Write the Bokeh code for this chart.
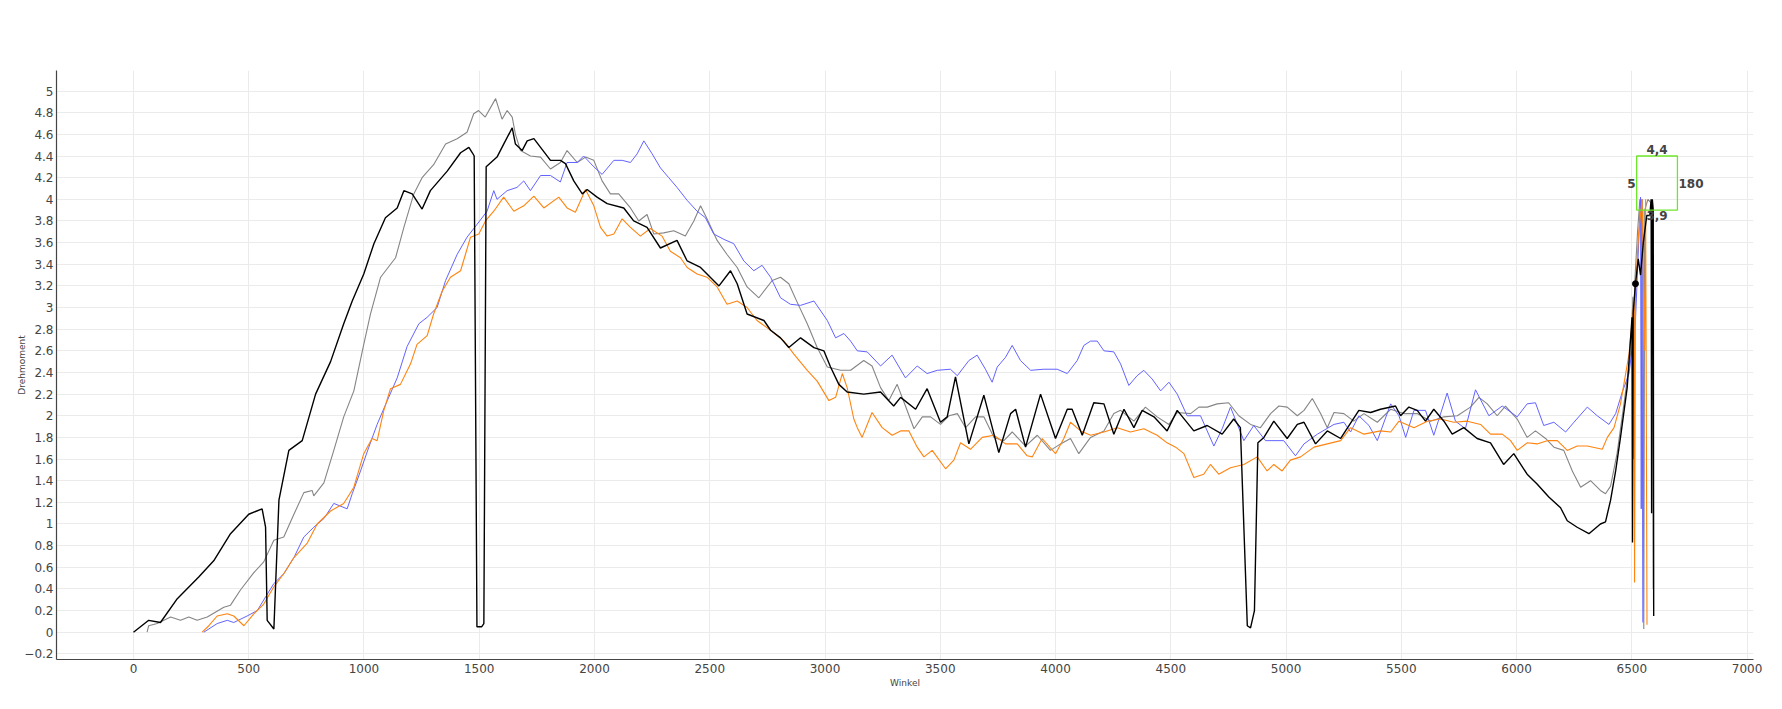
from bokeh.plotting import figure
from bokeh.models import FixedTicker, Label, Range1d
from bokeh.embed import file_html
from bokeh.resources import INLINE

# ---------------- data ----------------
black_x = [0, 66, 117, 190, 283, 348, 421, 500, 558, 573, 580, 609, 631, 674, 732, 790, 855, 912, 949, 999,
           1043, 1093, 1144, 1173, 1209, 1252, 1288, 1361, 1419, 1455, 1470, 1478, 1490, 1510, 1520, 1530, 1577,
           1606, 1643, 1657, 1686, 1708, 1737, 1766, 1809, 1852, 1874, 1910, 1947, 1968, 2011, 2055, 2127, 2170,
           2228, 2286, 2358, 2402, 2460, 2540, 2590, 2619, 2662, 2735, 2764, 2807, 2843, 2894, 2952, 2995, 3024,
           3060, 3096, 3168, 3241, 3298, 3328, 3393, 3443, 3501, 3530, 3566, 3624, 3689, 3754, 3805, 3827, 3870,
           3935, 4000, 4051, 4072, 4116, 4166, 4210, 4253, 4297, 4340, 4376, 4427, 4484, 4528, 4600, 4658, 4723,
           4773, 4802, 4832, 4846, 4863, 4878, 4904, 4947, 5005, 5049, 5078, 5128, 5179, 5237, 5316, 5367, 5410,
           5475, 5497, 5533, 5569, 5605, 5641, 5685, 5721, 5771, 5829, 5887, 5944, 5988, 6046, 6089, 6140, 6191,
           6220, 6263, 6314, 6364, 6386, 6408, 6430, 6451, 6480, 6501, 6503, 6506, 6516, 6528, 6538, 6550, 6565,
           6578, 6584, 6586, 6589, 6593, 6595]
black_y = [0.0, 0.11, 0.09, 0.31, 0.51, 0.66, 0.91, 1.09, 1.14, 0.97, 0.11, 0.03, 1.22, 1.68, 1.77, 2.20, 2.50,
           2.85, 3.06, 3.31, 3.59, 3.83, 3.92, 4.08, 4.05, 3.91, 4.08, 4.26, 4.43, 4.48, 4.43, 4.40, 0.05, 0.05,
           0.08, 4.30, 4.39, 4.51, 4.66, 4.51, 4.45, 4.54, 4.56, 4.48, 4.36, 4.36, 4.33, 4.17, 4.05, 4.09, 4.02,
           3.96, 3.92, 3.80, 3.74, 3.55, 3.62, 3.43, 3.37, 3.20, 3.34, 3.22, 2.94, 2.88, 2.79, 2.72, 2.63, 2.72,
           2.63, 2.60, 2.45, 2.29, 2.22, 2.20, 2.22, 2.09, 2.17, 2.06, 2.25, 1.94, 1.99, 2.36, 1.74, 2.19, 1.66,
           2.02, 2.06, 1.71, 2.20, 1.79, 2.06, 2.06, 1.82, 2.12, 2.11, 1.83, 2.06, 1.89, 2.05, 1.99, 1.86, 2.05,
           1.86, 1.91, 1.83, 1.97, 1.89, 0.06, 0.04, 0.20, 1.75, 1.80, 1.95, 1.79, 1.92, 1.94, 1.74, 1.86, 1.79,
           2.05, 2.03, 2.06, 2.09, 2.00, 2.08, 2.05, 1.95, 2.06, 1.95, 1.83, 1.89, 1.79, 1.75, 1.55, 1.65, 1.46,
           1.37, 1.25, 1.15, 1.03, 0.97, 0.91, 1.00, 1.02, 1.22, 1.49, 1.80, 2.26, 2.91, 0.83, 2.95, 3.22, 3.45,
           3.30, 3.60, 3.85, 3.85, 4.00, 1.10, 4.00, 3.90, 0.15]

gray_x = [59, 66, 103, 161, 204, 240, 276, 320, 392, 421, 464, 522, 565, 609, 652, 696, 739, 775, 782, 826, 869,
          912, 956, 999, 1028, 1072, 1137, 1173, 1216, 1252, 1302, 1354, 1404, 1447, 1476, 1497, 1526, 1571, 1599,
          1621, 1643, 1657, 1679, 1722, 1766, 1809, 1852, 1881, 1925, 1961, 1997, 2033, 2069, 2105, 2156, 2192,
          2228, 2257, 2300, 2344, 2394, 2431, 2460, 2488, 2532, 2575, 2619, 2662, 2713, 2771, 2807, 2843, 2879,
          2923, 2966, 3010, 3068, 3111, 3168, 3204, 3241, 3277, 3313, 3349, 3386, 3422, 3458, 3501, 3538, 3574,
          3610, 3653, 3689, 3733, 3776, 3812, 3870, 3921, 3978, 4022, 4065, 4101, 4152, 4210, 4253, 4282, 4340,
          4390, 4441, 4492, 4528, 4586, 4622, 4658, 4701, 4751, 4795, 4846, 4889, 4933, 4969, 5005, 5049, 5078,
          5114, 5150, 5179, 5208, 5251, 5294, 5338, 5396, 5454, 5511, 5569, 5627, 5685, 5743, 5800, 5837, 5873,
          5916, 5952, 6003, 6046, 6082, 6126, 6162, 6205, 6242, 6278, 6321, 6364, 6386, 6408, 6436, 6466, 6495,
          6505, 6508, 6512, 6525, 6535, 6548, 6552, 6556, 6570, 6590, 6592, 6593]
gray_y = [0.0, 0.06, 0.08, 0.14, 0.11, 0.14, 0.11, 0.14, 0.23, 0.25, 0.39, 0.55, 0.65, 0.85, 0.88, 1.09, 1.29,
          1.31, 1.26, 1.38, 1.68, 1.99, 2.23, 2.66, 2.94, 3.28, 3.46, 3.74, 4.05, 4.20, 4.32, 4.51, 4.56, 4.62,
          4.79, 4.82, 4.76, 4.93, 4.74, 4.82, 4.76, 4.60, 4.45, 4.40, 4.39, 4.28, 4.34, 4.45, 4.34, 4.39, 4.36,
          4.17, 4.05, 4.05, 3.92, 3.80, 3.86, 3.68, 3.69, 3.71, 3.66, 3.80, 3.94, 3.82, 3.62, 3.49, 3.37, 3.19,
          3.09, 3.25, 3.28, 3.22, 3.05, 2.85, 2.63, 2.45, 2.42, 2.42, 2.51, 2.46, 2.26, 2.14, 2.29, 2.09, 1.88,
          1.99, 1.99, 1.92, 2.00, 2.02, 1.89, 1.99, 1.99, 1.80, 1.77, 1.85, 1.72, 1.82, 1.68, 1.74, 1.79, 1.65,
          1.80, 1.86, 2.02, 2.05, 1.95, 2.08, 1.99, 1.92, 2.03, 2.02, 2.08, 2.08, 2.11, 2.12, 2.00, 1.92, 1.89,
          2.02, 2.09, 2.08, 2.00, 2.05, 2.16, 2.02, 1.89, 2.03, 2.02, 1.95, 2.02, 1.94, 2.06, 2.02, 2.02, 1.95,
          1.99, 2.00, 2.08, 2.17, 2.11, 2.00, 2.09, 1.97, 1.80, 1.86, 1.79, 1.71, 1.68, 1.49, 1.34, 1.40, 1.31,
          1.28, 1.35, 1.65, 2.11, 2.57, 3.10, 1.60, 3.20, 3.70, 4.00, 3.90, 0.03, 3.90, 4.00, 3.95, 1.10, 0.40]

blue_x = [305, 363, 407, 435, 493, 537, 580, 609, 652, 696, 739, 782, 826, 869, 927, 949, 985, 1021, 1057, 1101,
          1144, 1187, 1238, 1274, 1317, 1354, 1404, 1447, 1491, 1534, 1563, 1577, 1621, 1664, 1693, 1722, 1766,
          1809, 1852, 1881, 1925, 1953, 1997, 2033, 2084, 2120, 2156, 2185, 2214, 2250, 2286, 2322, 2358, 2402,
          2445, 2481, 2517, 2561, 2604, 2648, 2691, 2727, 2764, 2807, 2850, 2894, 2952, 3010, 3046, 3082, 3111,
          3140, 3183, 3241, 3291, 3349, 3400, 3443, 3487, 3544, 3574, 3624, 3660, 3696, 3725, 3747, 3783, 3812,
          3848, 3892, 3949, 4007, 4051, 4094, 4123, 4152, 4181, 4210, 4253, 4282, 4318, 4354, 4383, 4419, 4456,
          4492, 4528, 4571, 4629, 4687, 4723, 4759, 4817, 4860, 4911, 4990, 5041, 5078, 5136, 5208, 5251, 5280,
          5316, 5360, 5396, 5454, 5490, 5519, 5555, 5605, 5641, 5699, 5735, 5778, 5822, 5880, 5938, 6003, 6046,
          6082, 6118, 6162, 6213, 6249, 6307, 6350, 6401, 6430, 6459, 6488, 6516, 6538, 6541, 6544, 6548]
blue_y = [0.0, 0.08, 0.11, 0.09, 0.15, 0.20, 0.35, 0.45, 0.54, 0.69, 0.88, 0.97, 1.05, 1.19, 1.14, 1.28, 1.49,
          1.71, 1.92, 2.14, 2.35, 2.64, 2.85, 2.91, 3.00, 3.25, 3.49, 3.65, 3.77, 3.89, 4.08, 4.00, 4.08, 4.11,
          4.17, 4.08, 4.22, 4.22, 4.16, 4.34, 4.34, 4.40, 4.30, 4.23, 4.36, 4.36, 4.34, 4.42, 4.54, 4.42, 4.29,
          4.20, 4.11, 3.99, 3.89, 3.83, 3.68, 3.63, 3.59, 3.43, 3.34, 3.39, 3.28, 3.09, 3.03, 3.02, 3.06, 2.88,
          2.72, 2.76, 2.69, 2.60, 2.59, 2.46, 2.56, 2.35, 2.46, 2.39, 2.42, 2.43, 2.37, 2.51, 2.56, 2.43, 2.31,
          2.45, 2.54, 2.65, 2.51, 2.42, 2.43, 2.43, 2.39, 2.51, 2.65, 2.69, 2.69, 2.60, 2.59, 2.48, 2.28, 2.37,
          2.42, 2.34, 2.23, 2.31, 2.20, 2.00, 2.00, 1.72, 1.88, 2.08, 1.77, 1.91, 1.77, 1.77, 1.63, 1.74, 1.83,
          1.92, 1.94, 1.85, 2.00, 1.91, 1.77, 2.11, 2.00, 1.80, 2.05, 2.05, 1.82, 2.21, 1.95, 1.88, 2.24, 2.00,
          2.09, 1.99, 2.11, 2.12, 1.91, 1.94, 1.85, 1.94, 2.08, 2.00, 1.92, 2.02, 2.22, 2.39, 2.88, 4.02, 1.14,
          4.00, 0.09]

orange_x = [298, 327, 363, 407, 435, 479, 522, 565, 609, 652, 696, 753, 797, 855, 912, 956, 999, 1035, 1057, 1086,
            1115, 1158, 1202, 1230, 1274, 1302, 1339, 1375, 1419, 1440, 1462, 1498, 1527, 1563, 1606, 1650, 1693,
            1737, 1780, 1845, 1881, 1917, 1961, 1997, 2026, 2055, 2084, 2120, 2156, 2199, 2242, 2293, 2329, 2373,
            2402, 2445, 2488, 2532, 2575, 2619, 2662, 2705, 2764, 2822, 2865, 2923, 2966, 3017, 3046, 3075, 3096,
            3125, 3140, 3161, 3204, 3248, 3291, 3328, 3364, 3400, 3429, 3465, 3523, 3559, 3588, 3631, 3682, 3733,
            3783, 3834, 3877, 3899, 3942, 4000, 4036, 4065, 4109, 4152, 4210, 4268, 4325, 4383, 4441, 4484, 4521,
            4557, 4600, 4643, 4672, 4708, 4759, 4817, 4875, 4918, 4947, 4983, 5019, 5063, 5121, 5179, 5237, 5280,
            5338, 5410, 5454, 5490, 5555, 5613, 5670, 5728, 5786, 5844, 5887, 5938, 5974, 6003, 6046, 6089, 6133,
            6177, 6220, 6263, 6307, 6372, 6394, 6423, 6451, 6488, 6510, 6512, 6516, 6530, 6545, 6556, 6560, 6566]
orange_y = [0.0, 0.06, 0.15, 0.17, 0.15, 0.06, 0.17, 0.26, 0.42, 0.54, 0.69, 0.82, 1.00, 1.12, 1.19, 1.34, 1.65,
            1.79, 1.77, 2.05, 2.25, 2.29, 2.48, 2.66, 2.74, 2.94, 3.15, 3.28, 3.34, 3.49, 3.65, 3.68, 3.80, 3.89,
            4.02, 3.89, 3.94, 4.03, 3.92, 4.02, 3.92, 3.88, 4.09, 3.94, 3.74, 3.66, 3.68, 3.82, 3.74, 3.66, 3.73,
            3.66, 3.52, 3.46, 3.37, 3.31, 3.28, 3.19, 3.03, 3.06, 3.00, 2.88, 2.79, 2.69, 2.57, 2.42, 2.32, 2.14,
            2.17, 2.39, 2.26, 1.97, 1.89, 1.80, 2.03, 1.89, 1.82, 1.86, 1.86, 1.71, 1.62, 1.68, 1.51, 1.59, 1.75,
            1.69, 1.80, 1.82, 1.74, 1.74, 1.63, 1.62, 1.79, 1.65, 1.79, 1.94, 1.86, 1.82, 1.85, 1.89, 1.85, 1.88,
            1.82, 1.75, 1.71, 1.65, 1.43, 1.46, 1.55, 1.46, 1.52, 1.55, 1.62, 1.49, 1.55, 1.49, 1.59, 1.62, 1.71,
            1.74, 1.77, 1.89, 1.83, 1.86, 1.85, 1.95, 1.89, 1.95, 1.97, 1.94, 1.95, 1.92, 1.83, 1.83, 1.77, 1.68,
            1.75, 1.74, 1.77, 1.77, 1.68, 1.72, 1.72, 1.69, 1.80, 1.89, 2.11, 2.57, 3.06, 0.46, 3.15, 3.70, 4.00,
            2.60, 4.00, 0.07]

marker_x = [6516]
marker_y = [3.22]

# tolerance window (green box) and its labels
box_left = [6521]
box_right = [6698]
box_bottom = [3.9]
box_top = [4.4]
box_label_top = "4,4"
box_label_bottom = "3,9"
box_label_left = "5"
box_label_right = "180"

x_ticks = [0, 500, 1000, 1500, 2000, 2500, 3000, 3500, 4000, 4500, 5000, 5500, 6000, 6500, 7000]
x_tick_labels = ["0", "500", "1000", "1500", "2000", "2500", "3000", "3500", "4000", "4500", "5000",
                 "5500", "6000", "6500", "7000"]
y_ticks = [-0.2, 0, 0.2, 0.4, 0.6, 0.8, 1, 1.2, 1.4, 1.6, 1.8, 2, 2.2, 2.4, 2.6, 2.8, 3, 3.2, 3.4, 3.6, 3.8,
           4, 4.2, 4.4, 4.6, 4.8, 5]
y_tick_labels = ["\u22120.2", "0", "0.2", "0.4", "0.6", "0.8", "1", "1.2", "1.4", "1.6", "1.8", "2", "2.2",
                 "2.4", "2.6", "2.8", "3", "3.2", "3.4", "3.6", "3.8", "4", "4.2", "4.4", "4.6", "4.8", "5"]

x_title = "Winkel"
y_title = "Drehmoment"

# ---------------- figure ----------------
FONT = "DejaVu Sans"
TXT = "#444444"

p = figure(width=1782, height=709, output_backend="svg", toolbar_location=None,
           x_range=Range1d(-334, 7028), y_range=Range1d(-0.252, 5.19),
           min_border_left=56, min_border_right=29, min_border_top=70, min_border_bottom=50)
p.outline_line_color = None
p.background_fill_color = "white"
p.border_fill_color = "white"

for ax in (p.xaxis[0], p.yaxis[0]):
    ax.axis_line_color = "#444444"
    ax.axis_line_width = 1.2
    ax.major_tick_out = 0
    ax.major_tick_in = 0
    ax.minor_tick_out = 0
    ax.minor_tick_in = 0
    ax.major_label_text_font = FONT
    ax.major_label_text_font_size = "12px"
    ax.major_label_text_color = TXT
    ax.axis_label_text_font = FONT
    ax.axis_label_text_font_size = "9px"
    ax.axis_label_text_font_style = "normal"
    ax.axis_label_text_color = TXT

p.xaxis.ticker = FixedTicker(ticks=x_ticks)
p.xaxis.major_label_overrides = dict(zip(x_ticks, x_tick_labels))
p.xaxis.major_label_standoff = 4
p.xaxis.axis_label = x_title
p.xaxis.axis_label_standoff = 2
p.yaxis.ticker = FixedTicker(ticks=y_ticks)
p.yaxis.major_label_overrides = dict(zip(y_ticks, y_tick_labels))
p.yaxis.major_label_standoff = 3
p.yaxis.axis_label = y_title
p.yaxis.axis_label_standoff = -6

p.xgrid.ticker = FixedTicker(ticks=x_ticks)
p.ygrid.ticker = FixedTicker(ticks=y_ticks)
p.grid.grid_line_color = "#ebebeb"
p.grid.grid_line_width = 1

# series
p.line(gray_x, gray_y, line_color="#858585", line_width=1.1)
p.line(blue_x, blue_y, line_color="#6363ff", line_width=1.0)
p.line(orange_x, orange_y, line_color="#ff8410", line_width=1.1)
p.line(black_x, black_y, line_color="#000000", line_width=1.4)
p.scatter(marker_x, marker_y, size=6, color="#000000")

# green window
p.quad(left=box_left, right=box_right, bottom=box_bottom, top=box_top,
       fill_color=None, line_color="#6ee62a", line_width=1.3)

cx = (box_left[0] + box_right[0]) / 2
cy = (box_bottom[0] + box_top[0]) / 2
lab_kw = dict(text_font=FONT, text_font_size="12px", text_font_style="bold", text_color=TXT)
p.add_layout(Label(x=cx, y=box_top[0], text=box_label_top, text_align="center",
                   text_baseline="bottom", y_offset=2, **lab_kw))
p.add_layout(Label(x=cx, y=box_bottom[0], text=box_label_bottom, text_align="center",
                   text_baseline="top", y_offset=-1, **lab_kw))
p.add_layout(Label(x=box_left[0], y=cy, text=box_label_left, text_align="right",
                   text_baseline="middle", x_offset=-1, **lab_kw))
p.add_layout(Label(x=box_right[0], y=cy, text=box_label_right, text_align="left",
                   text_baseline="middle", x_offset=1, **lab_kw))

open("out.html", "w").write(file_html(p, INLINE))
